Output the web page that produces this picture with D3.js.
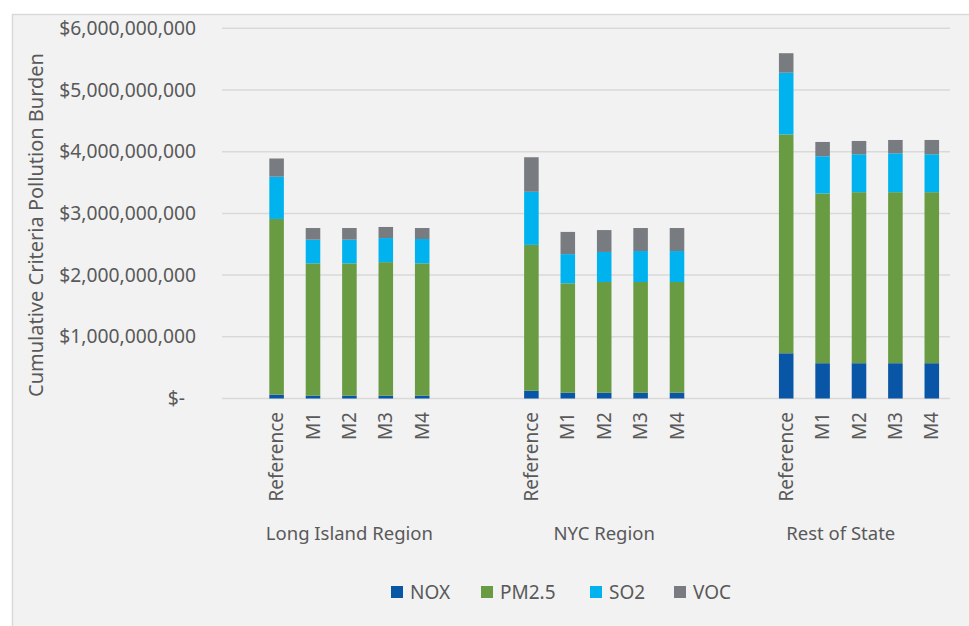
<!DOCTYPE html>
<html>
<head>
<meta charset="utf-8">
<script src="https://cdn.jsdelivr.net/npm/d3@7"></script>
<style>
  html, body { margin: 0; padding: 0; background: #ffffff; }
  svg { display: block; }
  text { font-family: "Noto Sans", "Open Sans", sans-serif; fill: #595959; }
</style>
</head>
<body>
<svg id="chart" width="969" height="626"></svg>
<script>
// Regions and scenarios
const regions = ["Long Island Region", "NYC Region", "Rest of State"];
const scenarios = ["Reference", "M1", "M2", "M3", "M4"];
const pollutants = ["NOX", "PM2.5", "SO2", "VOC"];
const colors = ["#0a56a6", "#699b42", "#00b3ef", "#787c80"];

// Burden by pollutant (dollars), one entry per scenario, per region
const noxValues = [
  [0.062e9, 0.045e9, 0.045e9, 0.045e9, 0.045e9],
  [0.126e9, 0.094e9, 0.094e9, 0.094e9, 0.094e9],
  [0.733e9, 0.572e9, 0.572e9, 0.572e9, 0.572e9]
];
const pm25Values = [
  [2.848e9, 2.145e9, 2.145e9, 2.165e9, 2.145e9],
  [2.364e9, 1.773e9, 1.794e9, 1.794e9, 1.794e9],
  [3.547e9, 2.751e9, 2.772e9, 2.772e9, 2.772e9]
];
const so2Values = [
  [0.685e9, 0.384e9, 0.384e9, 0.390e9, 0.395e9],
  [0.860e9, 0.473e9, 0.487e9, 0.502e9, 0.502e9],
  [1.000e9, 0.603e9, 0.614e9, 0.630e9, 0.614e9]
];
const vocValues = [
  [0.295e9, 0.189e9, 0.189e9, 0.180e9, 0.178e9],
  [0.560e9, 0.360e9, 0.355e9, 0.373e9, 0.373e9],
  [0.316e9, 0.232e9, 0.216e9, 0.216e9, 0.232e9]
];
// Empty category slots placed before each region on the axis
const leadingBlanks = [1, 2, 2];
// Of those empty slots, how many belong to the region's own label span
const labelledBlanks = [0, 0, 1];

const yTicks = [0, 1e9, 2e9, 3e9, 4e9, 5e9, 6e9];
const yTitle = "Cumulative Criteria Pollution Burden";

// Build category slots
const slots = [];
const rows = [];
regions.forEach((r, ri) => {
  for (let b = 0; b < leadingBlanks[ri]; b++) {
    const inGroup = b >= leadingBlanks[ri] - labelledBlanks[ri];
    slots.push({ key: `blank-${ri}-${b}`, region: inGroup ? r : null, scenario: null });
  }
  scenarios.forEach((s, si) => {
    const key = `${r}|${s}`;
    slots.push({ key, region: r, scenario: s });
    rows.push({
      key,
      "NOX": noxValues[ri][si],
      "PM2.5": pm25Values[ri][si],
      "SO2": so2Values[ri][si],
      "VOC": vocValues[ri][si]
    });
  });
});

const svg = d3.select("#chart");
const W = 969, H = 626;

// Chart area background and border
svg.append("rect").attr("x", 12).attr("y", 14).attr("width", W - 12).attr("height", H - 14)
  .attr("fill", "#f2f2f2");
svg.append("line").attr("x1", 12.5).attr("x2", 12.5).attr("y1", 14).attr("y2", H)
  .attr("stroke", "#d9d9d9").attr("stroke-width", 1.5);
svg.append("line").attr("x1", 12).attr("x2", W).attr("y1", 14.5).attr("y2", 14.5)
  .attr("stroke", "#d9d9d9").attr("stroke-width", 1.5);

const plot = { left: 222, right: 950, top: 28.3, bottom: 398.5 };

const x = d3.scaleBand()
  .domain(slots.map(d => d.key))
  .range([plot.left, plot.right])
  .paddingInner(0.6)
  .paddingOuter(0.3);

const y = d3.scaleLinear().domain([0, 6e9]).range([plot.bottom, plot.top]);

// Gridlines
svg.append("g").selectAll("line").data(yTicks).join("line")
  .attr("x1", plot.left).attr("x2", plot.right)
  .attr("y1", d => y(d)).attr("y2", d => y(d))
  .attr("stroke", "#d9d9d9").attr("stroke-width", 1.5);

// Y axis labels
const fmt = d3.format(",");
const yAxis = d3.axisLeft(y).tickValues(yTicks)
  .tickSize(0).tickPadding(0)
  .tickFormat(d => d === 0 ? "$-" : "$" + fmt(d));
const yg = svg.append("g").attr("transform", `translate(196,0)`).call(yAxis);
yg.select(".domain").remove();
yg.selectAll("text").attr("font-size", 19.3).attr("fill", "#595959")
  .attr("font-family", "Noto Sans");
yg.selectAll(".tick").filter(d => d === 0).select("text").attr("dx", -11);

// Y axis title
svg.append("text")
  .attr("transform", `translate(43,${225}) rotate(-90)`)
  .attr("text-anchor", "middle")
  .attr("font-size", 20)
  .text(yTitle);

// Stacked bars
const stack = d3.stack().keys(pollutants);
const series = stack(rows);
const color = d3.scaleOrdinal().domain(pollutants).range(colors);

svg.append("g").selectAll("g").data(series).join("g")
  .attr("fill", d => color(d.key))
  .selectAll("rect").data(d => d).join("rect")
  .attr("x", d => x(d.data.key))
  .attr("width", x.bandwidth())
  .attr("y", d => y(d[1]))
  .attr("height", d => y(d[0]) - y(d[1]));

// Scenario labels (rotated)
svg.append("g").selectAll("text").data(slots.filter(d => d.scenario)).join("text")
  .attr("transform", d => `translate(${x(d.key) + x.bandwidth() / 2 + 6.5},${412}) rotate(-90)`)
  .attr("text-anchor", "end")
  .attr("font-size", 19)
  .text(d => d.scenario);

// Region labels centred under their slots
svg.append("g").selectAll("text").data(regions).join("text")
  .attr("x", r => d3.mean(slots.filter(s => s.region === r), s => x(s.key) + x.bandwidth() / 2))
  .attr("y", 540)
  .attr("text-anchor", "middle")
  .attr("font-size", 18.5)
  .text(r => r);

// Legend
const legendX = [391, 481, 590, 674];
const legend = svg.append("g").selectAll("g").data(pollutants).join("g")
  .attr("transform", (d, i) => `translate(${legendX[i]},${586})`);
legend.append("rect").attr("width", 12).attr("height", 12).attr("fill", d => color(d));
legend.append("text").attr("x", 19).attr("y", 12.5).attr("font-size", 19).text(d => d);
</script>
</body>
</html>
